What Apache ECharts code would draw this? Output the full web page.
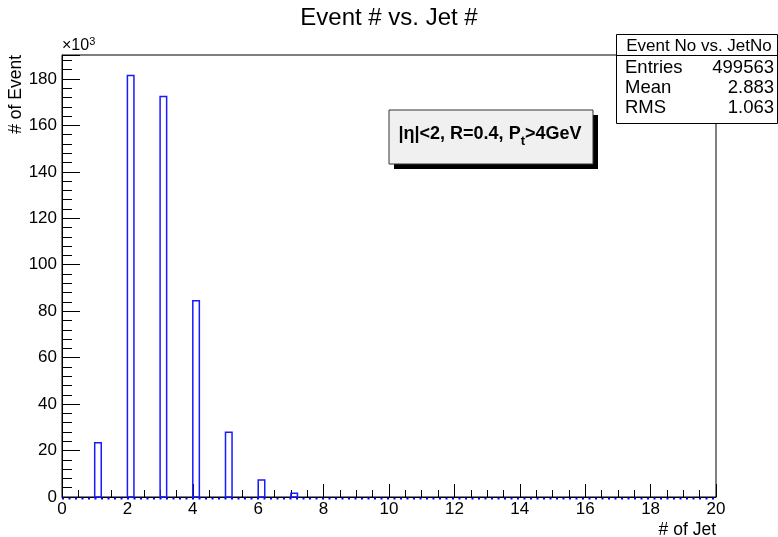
<!DOCTYPE html>
<html>
<head>
<meta charset="utf-8">
<script src="https://cdn.jsdelivr.net/npm/echarts@6/dist/echarts.min.js"></script>
<style>
  html, body { margin: 0; padding: 0; background: #fff; }
  #chart { width: 778px; height: 537px; }
</style>
</head>
<body>
<div id="chart"></div>
<script>
// histogram bins (width 0.2) starting at each jet number
const jetNo = [1, 2, 3, 4, 5, 6, 7];
const events = [23400, 181500, 172400, 84500, 27900, 7300, 1600];
const binWidth = 0.2;
const xRange = [0, 20];
const statLabels = ['Entries', 'Mean', 'RMS'];
const statValues = ['499563', '2.883', '1.063'];

const font = "'Liberation Sans', Arial, Helvetica, sans-serif";
const myChart = echarts.init(document.getElementById('chart'));

const histData = jetNo.map((x, i) => [x, events[i]]);

const option = {
    animation: false,
    backgroundColor: '#ffffff',
    grid: {
        left: 62, right: 62, top: 55, bottom: 40,
        show: true, borderColor: '#000', borderWidth: 1, backgroundColor: 'transparent'
    },
    xAxis: {
        type: 'value',
        min: xRange[0], max: xRange[1], interval: 2,
        axisLine: { lineStyle: { color: '#000', width: 1 } },
        axisTick: { inside: true, length: 13, lineStyle: { color: '#000' } },
        minorTick: { show: true, splitNumber: 4, length: 7, lineStyle: { color: '#000' } },
        splitLine: { show: false },
        axisLabel: { color: '#000', fontFamily: font, fontSize: 17, margin: 4 }
    },
    yAxis: {
        type: 'value',
        min: 0, max: 190300, interval: 20000,
        axisLine: { show: true, lineStyle: { color: '#000', width: 1 } },
        axisTick: { inside: true, length: 18, lineStyle: { color: '#000' } },
        minorTick: { show: true, splitNumber: 5, length: 10, lineStyle: { color: '#000' } },
        splitLine: { show: false },
        axisLabel: {
            color: '#000', fontFamily: font, fontSize: 17, margin: 5, showMaxLabel: false,
            formatter: v => String(Math.round(v / 1000))
        }
    },
    series: [
        {
            type: 'custom',
            data: histData,
            renderItem: function (params, api) {
                const x = api.value(0), y = api.value(1);
                const p0 = api.coord([x, 0]);
                const p1 = api.coord([x + binWidth, y]);
                return {
                    type: 'rect',
                    shape: { x: p0[0], y: p1[1], width: p1[0] - p0[0], height: p0[1] - p1[1] },
                    style: { fill: 'none', stroke: '#1a1aff', lineWidth: 1.5 }
                };
            },
            z: 3
        },
        {
            // histogram outline along zero for the empty bins
            type: 'custom',
            data: [[xRange[0], xRange[1]]],
            renderItem: function (params, api) {
                const a = api.coord([api.value(0), 0]);
                const b = api.coord([api.value(1), 0]);
                return {
                    type: 'line',
                    shape: { x1: a[0], y1: a[1] + 1.5, x2: b[0], y2: b[1] + 1.5 },
                    style: { stroke: '#0000ff', lineWidth: 2, lineDash: [2, 4.5] }
                };
            },
            z: 1
        }
    ],
    graphic: [
        {
            type: 'text', x: 389, y: 18,
            style: { text: 'Event # vs. Jet #', font: '24px ' + font, fill: '#000', align: 'center', verticalAlign: 'middle' }
        },
        {
            type: 'text', x: 62, y: 36,
            style: {
                text: '×10{s|3}', font: '16px ' + font, fill: '#000',
                rich: { s: { fontSize: 11, fontFamily: font, padding: [0, 0, 8, 0] } }
            }
        },
        {
            type: 'text', x: 7, y: 55, rotation: Math.PI / 2,
            style: { text: '# of Event', font: '17.5px ' + font, fill: '#000', align: 'right', verticalAlign: 'top' }
        },
        {
            type: 'text', x: 716, y: 530,
            style: { text: '# of Jet', font: '17.5px ' + font, fill: '#000', align: 'right', verticalAlign: 'middle' }
        },
        // label box with shadow
        { type: 'rect', shape: { x: 394, y: 115, width: 204, height: 54 }, style: { fill: '#000' }, z: 10 },
        { type: 'rect', shape: { x: 389, y: 110, width: 204, height: 54 }, style: { fill: '#f0f0f0', stroke: '#333', lineWidth: 1 }, z: 11 },
        {
            type: 'text', x: 490, y: 134, z: 12,
            style: {
                text: '{a||η|<2, R=0.4, P}{b|t}{a|>4GeV}',
                align: 'center', verticalAlign: 'middle',
                rich: {
                    a: { fontFamily: font, fontSize: 18, fontWeight: 'bold', fill: '#000', lineHeight: 22 },
                    b: { fontFamily: font, fontSize: 13, fontWeight: 'bold', fill: '#000', lineHeight: 22, padding: [14, 0, 0, 0] }
                }
            }
        },
        // stats box
        { type: 'rect', shape: { x: 616.5, y: 34.5, width: 161, height: 89 }, style: { fill: '#fff', stroke: '#000', lineWidth: 1 }, z: 10 },
        { type: 'line', shape: { x1: 616.5, y1: 55.5, x2: 778, y2: 55.5 }, style: { stroke: '#000', lineWidth: 1 }, z: 11 },
        {
            type: 'text', x: 699, y: 46, z: 12,
            style: { text: 'Event No vs. JetNo', font: '17px ' + font, fill: '#000', align: 'center', verticalAlign: 'middle' }
        },
        ...statLabels.map((s, i) => ({
            type: 'text', x: 625, y: 68 + i * 20, z: 12,
            style: { text: s, font: '18.5px ' + font, fill: '#000', verticalAlign: 'middle' }
        })),
        ...statValues.map((s, i) => ({
            type: 'text', x: 774, y: 68 + i * 20, z: 12,
            style: { text: s, font: '18.5px ' + font, fill: '#000', align: 'right', verticalAlign: 'middle' }
        }))
    ]
};

myChart.setOption(option);
</script>
</body>
</html>
